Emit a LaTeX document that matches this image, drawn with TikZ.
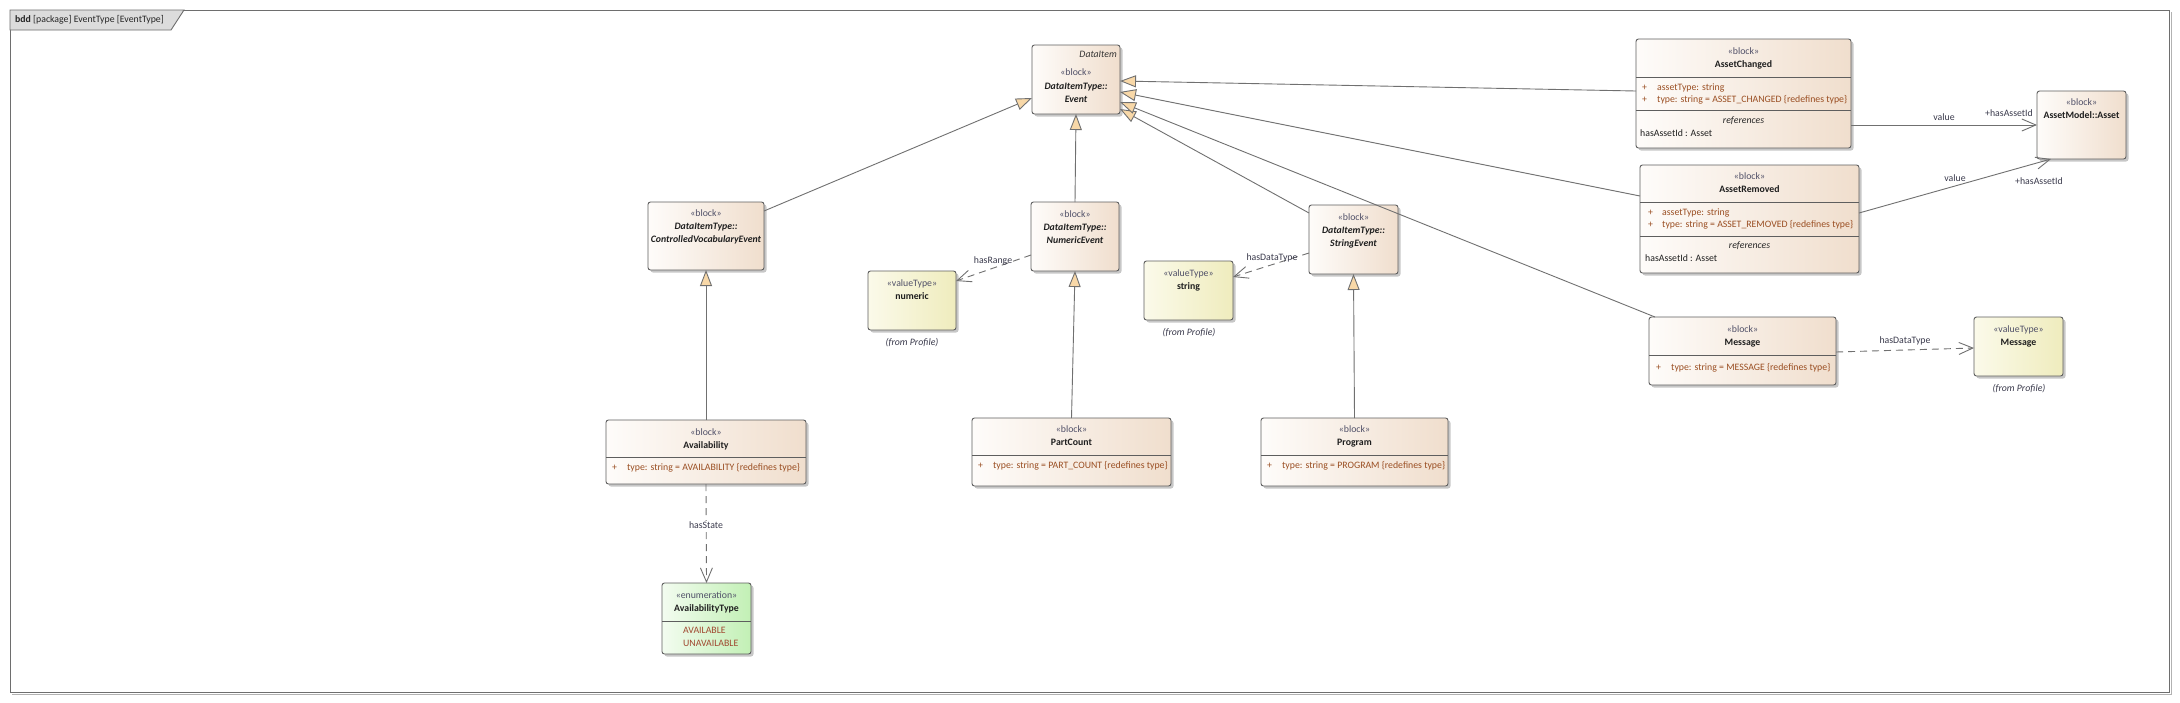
\documentclass[tikz,border=0pt]{standalone}
\usepackage{fontspec}
\setmainfont{Carlito}
\usetikzlibrary{arrows.meta,shadows}

\definecolor{blkL}{HTML}{FEFCFA}
\definecolor{blkR}{HTML}{F0DECD}
\definecolor{vtL}{HTML}{FBFAEA}
\definecolor{vtR}{HTML}{EFECBD}
\definecolor{enL}{HTML}{F3FCF0}
\definecolor{enR}{HTML}{C2F0B5}
\definecolor{boxln}{HTML}{5E5E5E}
\definecolor{conln}{HTML}{707070}
\definecolor{genfill}{HTML}{F8D8A8}
\definecolor{sttxt}{HTML}{505068}
\definecolor{attxt}{HTML}{9A4E22}
\definecolor{littxt}{HTML}{A04830}
\definecolor{lbltxt}{HTML}{3A3A4C}
\definecolor{tabfill}{HTML}{DCDCDC}
\definecolor{framecol}{HTML}{6E6E6E}

\newcommand{\dfont}{\fontsize{9.8pt}{11pt}\selectfont}

\begin{document}
\begin{tikzpicture}[x=1pt,y=-1pt,
  boxbase/.style={draw=boxln, line width=0.9pt, rounded corners=2.5pt, anchor=north west,
    inner sep=0pt, outer sep=0pt,
    drop shadow={shadow xshift=2.5pt, shadow yshift=-2.5pt, fill=black, opacity=0.22}},
  blk/.style={boxbase, left color=blkL, right color=blkR},
  vt/.style={boxbase, left color=vtL, right color=vtR},
  enm/.style={boxbase, left color=enL, right color=enR},
  sepline/.style={draw=boxln, line width=0.9pt},
  txt/.style={font=\dfont, inner sep=0pt, text height=7pt, text depth=2pt},
  st/.style={txt, text=sttxt},
  nm/.style={txt, font=\dfont\bfseries, text=black!88},
  anm/.style={txt, font=\dfont\bfseries\itshape, text=black!88},
  attr/.style={txt, text=attxt, anchor=west},
  lit/.style={txt, text=littxt, anchor=west},
  lbl/.style={txt, text=lbltxt},
  fp/.style={txt, font=\dfont\itshape, text=lbltxt},
  gen/.style={draw=conln, line width=0.9pt, -{Triangle[length=16pt,width=12pt,fill=genfill]}},
  assoc/.style={draw=conln, line width=0.9pt, -{Straight Barb[length=14pt,width=12pt]}},
  dep/.style={assoc, dash pattern=on 7pt off 5pt}
]
\fill[white] (0,0) rectangle (2180,702);
\useasboundingbox (0,0) rectangle (2180,702);

% frame
\draw[black!30, line width=1pt] (2171.5,12) -- (2171.5,694) -- (12,694);
\node[draw=framecol, line width=1.4pt, anchor=north west, inner sep=0pt, minimum width=2159pt, minimum height=682pt] (frame) at (10,10) {};
\draw[fill=tabfill, draw=framecol, line width=0.9pt] (10,10) -- (184,10) -- (171,30) -- (10,30) -- cycle;
\node[txt, anchor=west, text=black!85] (tabtxt) at (15,20) {\textbf{bdd} [package] EventType [EventType]};

% boxes
\node[blk, minimum width=88pt, minimum height=69pt] (ev) at (1032,45) {};
\node[blk, minimum width=116pt, minimum height=68pt] (cve) at (648,202) {};
\node[blk, minimum width=88pt, minimum height=69pt] (nev) at (1031,202) {};
\node[blk, minimum width=89pt, minimum height=69pt] (sev) at (1309,205) {};
\node[vt, minimum width=88pt, minimum height=59pt] (num) at (868,271) {};
\node[vt, minimum width=89pt, minimum height=59pt] (str) at (1144,261) {};
\node[blk, minimum width=200pt, minimum height=64pt] (avl) at (606,420) {};
\node[blk, minimum width=199pt, minimum height=68pt] (pc) at (972,418) {};
\node[blk, minimum width=187pt, minimum height=68pt] (prg) at (1261,418) {};
\node[enm, minimum width=89pt, minimum height=71pt] (avt) at (662,583) {};
\node[blk, minimum width=215pt, minimum height=109pt] (ach) at (1636,39) {};
\node[blk, minimum width=219pt, minimum height=108pt] (arm) at (1640,165) {};
\node[blk, minimum width=89pt, minimum height=68pt] (ast) at (2037,91) {};
\node[blk, minimum width=187pt, minimum height=68pt] (msg) at (1649,317) {};
\node[vt, minimum width=89pt, minimum height=59pt] (mvt) at (1974,317) {};

% compartment separators
\draw[sepline] (avl.west |- 0,457) -- (avl.east |- 0,457);
\draw[sepline] (pc.west |- 0,455) -- (pc.east |- 0,455);
\draw[sepline] (prg.west |- 0,455) -- (prg.east |- 0,455);
\draw[sepline] (avt.west |- 0,621) -- (avt.east |- 0,621);
\draw[sepline] (ach.west |- 0,77) -- (ach.east |- 0,77);
\draw[sepline] (ach.west |- 0,110) -- (ach.east |- 0,110);
\draw[sepline] (arm.west |- 0,202) -- (arm.east |- 0,202);
\draw[sepline] (arm.west |- 0,236) -- (arm.east |- 0,236);
\draw[sepline] (msg.west |- 0,355) -- (msg.east |- 0,355);

% generalizations
\draw[gen] (cve.east |- 0,211) -- (ev.west |- 0,98);
\draw[gen] (nev.north) -- (ev.south);
\draw[gen] (avl.north) -- (cve.south);
\draw[gen] (pc.north) -- (nev.south);
\draw[gen] (prg.north) -- (sev.south);
\draw[gen] (sev.west |- 0,213) -- (ev.east |- 0,109);
\draw[gen] ([xshift=6pt]msg.north west) -- (ev.east |- 0,102);
\draw[gen] (arm.west |- 0,196) -- (ev.east |- 0,92);
\draw[gen] (ach.west |- 0,91) -- (ev.east |- 0,81);

% associations / dependencies
\draw[assoc] (ach.east |- 0,125) -- (ast.west |- 0,125);
\draw[assoc] (arm.east |- 0,213) -- ([xshift=14pt]ast.south west);
\draw[dep] (nev.west |- 0,255) -- (num.east |- 0,281);
\draw[dep] (sev.west |- 0,253) -- (str.east |- 0,277);
\draw[dep] (msg.east |- 0,352) -- (mvt.west |- 0,348);
\draw[dep] (avl.south) -- (avt.north);

% connector labels
\node[lbl] (lrange) at (993,261) {hasRange};
\node[lbl] (lsdt) at (1272,258) {hasDataType};
\node[lbl] (lmdt) at (1905,341) {hasDataType};
\node[lbl, fill=white, inner sep=1pt] (lstate) at (706,526) {hasState};
\node[lbl] (lv1) at (1944,118) {value};
\node[lbl] (lr1) at (2009,114) {+hasAssetId};
\node[lbl] (lv2) at (1955,179) {value};
\node[lbl] (lr2) at (2039,182) {+hasAssetId};

% Event
\node[txt, font=\dfont\itshape, text=black!80, anchor=east] (evdi) at (1117,55) {DataItem};
\node[st] (evs) at (1076,73) {«block»};
\node[anm] (evn1) at (1076,87) {DataItemType::};
\node[anm] (evn2) at (1076,100) {Event};

% ControlledVocabularyEvent
\node[st] (cves) at (706,214) {«block»};
\node[anm] (cven1) at (706,227) {DataItemType::};
\node[anm] (cven2) at (706,240) {ControlledVocabularyEvent};

% NumericEvent
\node[st] (nevs) at (1075,215) {«block»};
\node[anm] (nevn1) at (1075,228) {DataItemType::};
\node[anm] (nevn2) at (1075,241) {NumericEvent};

% StringEvent
\node[st] (sevs) at (1353.5,218) {«block»};
\node[anm] (sevn1) at (1353.5,231) {DataItemType::};
\node[anm] (sevn2) at (1353.5,244) {StringEvent};

% numeric
\node[st] (nums) at (912,284) {«valueType»};
\node[nm] (numn) at (912,297) {numeric};
\node[fp] (numf) at (912,343) {(from Profile)};

% string
\node[st] (strs) at (1188.5,274) {«valueType»};
\node[nm] (strn) at (1188.5,287) {string};
\node[fp] (strf) at (1189,333) {(from Profile)};

% Message valueType
\node[st] (mvts) at (2018.5,330) {«valueType»};
\node[nm] (mvtn) at (2018.5,343) {Message};
\node[fp] (mvtf) at (2019,389) {(from Profile)};

% Availability
\node[st] (avls) at (706,433) {«block»};
\node[nm] (avln) at (706,446) {Availability};
\node[attr] (avlp) at (612,468) {+};
\node[attr] (avla) at (627,468) {type: string = AVAILABILITY \{redefines type\}};

% PartCount
\node[st] (pcs) at (1071.5,430) {«block»};
\node[nm] (pcn) at (1071.5,443) {PartCount};
\node[attr] (pcp) at (978,466) {+};
\node[attr] (pca) at (993,466) {type: string = PART\_COUNT \{redefines type\}};

% Program
\node[st] (prgs) at (1354.5,430) {«block»};
\node[nm] (prgn) at (1354.5,443) {Program};
\node[attr] (prgp) at (1267,466) {+};
\node[attr] (prga) at (1282,466) {type: string = PROGRAM \{redefines type\}};

% AvailabilityType
\node[st] (avts) at (706.5,596) {«enumeration»};
\node[nm] (avtn) at (706.5,609) {AvailabilityType};
\node[lit] (avtl1) at (683,631) {AVAILABLE};
\node[lit] (avtl2) at (683,644) {UNAVAILABLE};

% AssetChanged
\node[st] (achs) at (1743.5,52) {«block»};
\node[nm] (achn) at (1743.5,65) {AssetChanged};
\node[attr] (achp1) at (1642,88) {+};
\node[attr] (acha1) at (1657,88) {assetType: string};
\node[attr] (achp2) at (1642,100) {+};
\node[attr] (acha2) at (1657,100) {type: string = ASSET\_CHANGED \{redefines type\}};
\node[txt, font=\dfont\itshape, text=black!85] (achr) at (1743.5,121) {references};
\node[txt, anchor=west, text=black!88] (achh) at (1640,134) {hasAssetId : Asset};

% AssetRemoved
\node[st] (arms) at (1749.5,177) {«block»};
\node[nm] (armn) at (1749.5,190) {AssetRemoved};
\node[attr] (armp1) at (1648,213) {+};
\node[attr] (arma1) at (1662,213) {assetType: string};
\node[attr] (armp2) at (1648,225) {+};
\node[attr] (arma2) at (1662,225) {type: string = ASSET\_REMOVED \{redefines type\}};
\node[txt, font=\dfont\itshape, text=black!85] (armr) at (1749.5,246) {references};
\node[txt, anchor=west, text=black!88] (armh) at (1645,259) {hasAssetId : Asset};

% AssetModel::Asset
\node[st] (asts) at (2081.5,103) {«block»};
\node[nm] (astn) at (2081.5,116) {AssetModel::Asset};

% Message block
\node[st] (msgs) at (1742.5,330) {«block»};
\node[nm] (msgn) at (1742.5,343) {Message};
\node[attr] (msgp) at (1656,368) {+};
\node[attr] (msga) at (1671,368) {type: string = MESSAGE \{redefines type\}};
\end{tikzpicture}
\end{document}
